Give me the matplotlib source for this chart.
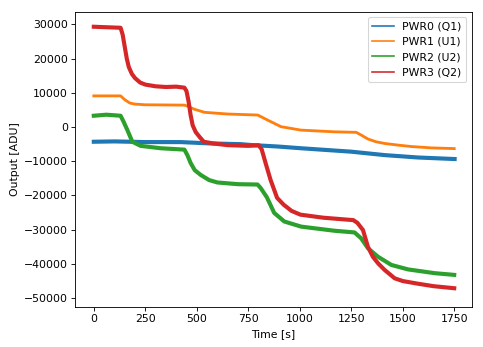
import matplotlib
matplotlib.use("Agg")
import matplotlib.pyplot as plt

# valeurs (temps en s, sortie en ADU)
t_q1 = [0, 100, 250, 422, 568, 713, 763, 895, 1006, 1250, 1412, 1574, 1752]
pwr0_q1 = [-4300, -4200, -4400, -4400, -4800, -5000, -5250, -5700, -6200, -7200, -8200, -8900, -9350]

t_u1 = [0, 130, 150, 175, 200, 250, 440, 460, 486, 537, 650, 796, 845, 909, 1006, 1168, 1274, 1300,
        1331, 1370, 1412, 1480, 1542, 1640, 1750]
pwr1_u1 = [9100, 9100, 8000, 7000, 6700, 6500, 6400, 6000, 5250, 4300, 3800, 3500, 2000, 100, -900,
           -1400, -1550, -2400, -3500, -4300, -4800, -5300, -5700, -6100, -6300]

t_u2 = [0, 60, 130, 145, 163, 187, 227, 325, 440, 455, 470, 490, 519, 560, 600, 700, 795, 810, 840,
        876, 925, 1007, 1168, 1266, 1298, 1331, 1380, 1445, 1526, 1655, 1750]
pwr2_u2 = [3300, 3600, 3300, 1500, -900, -4300, -5500, -6200, -6600, -8300, -10500, -12600, -14000,
           -15500, -16200, -16700, -16800, -17800, -20500, -25100, -27600, -29100, -30300, -30800,
           -32500, -35400, -37900, -40300, -41600, -42700, -43200]

t_q2 = [0, 130, 140, 150, 160, 170, 185, 200, 225, 250, 300, 350, 400, 440, 450, 460, 470, 480, 495,
        515, 534, 580, 650, 750, 800, 815, 834, 858, 890, 922, 960, 1003, 1115, 1260, 1280, 1307,
        1331, 1355, 1380, 1412, 1461, 1500, 1576, 1650, 1750]
pwr3_q2 = [29300, 29000, 27000, 23500, 20000, 17500, 15500, 14300, 13000, 12400, 11900, 11700, 11800,
           11500, 10500, 7500, 3500, 500, -1500, -3000, -4300, -4800, -5300, -5500, -5300, -6500,
           -10500, -15400, -20700, -22700, -24500, -25600, -26500, -27200, -28000, -30100, -35000,
           -37900, -39800, -41750, -44200, -45000, -45800, -46500, -47100]

noms = ["PWR0 (Q1)", "PWR1 (U1)", "PWR2 (U2)", "PWR3 (Q2)"]
couleurs = ["#1f77b4", "#ff7f0e", "#2ca02c", "#d62728"]

# l'image de référence correspond à une figure par défaut rendue à ~78 dpi
dpi = 78
fig = plt.figure(figsize=(483 / dpi, 347 / dpi), dpi=dpi)
ax = fig.add_axes([0.1563, 0.1161, 0.8199, 0.8502])

# lignes épaisses pour rendre la bande de bruit du signal
ax.plot(t_q1, pwr0_q1, color=couleurs[0], lw=3.8, label=noms[0])
ax.plot(t_u1, pwr1_u1, color=couleurs[1], lw=2.6, label=noms[1])
ax.plot(t_u2, pwr2_u2, color=couleurs[2], lw=3.8, label=noms[2])
ax.plot(t_q2, pwr3_q2, color=couleurs[3], lw=3.8, label=noms[3])

ax.set_xlim(-89, 1834)
ax.set_ylim(-52500, 33700)
ax.set_xlabel("Time [s]")
ax.set_ylabel("Output [ADU]")

leg = ax.legend(loc="upper right")
for h in leg.legend_handles:
    h.set_linewidth(1.5)

fig.savefig("out.png", dpi=dpi)
